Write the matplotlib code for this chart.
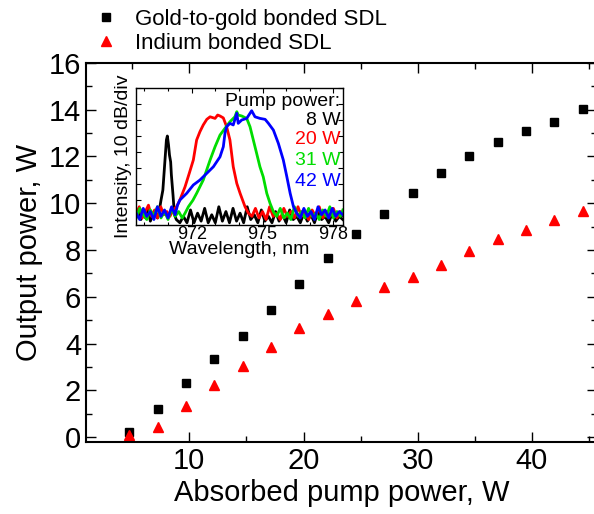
import matplotlib
matplotlib.use("Agg")
import matplotlib.pyplot as plt
from matplotlib.ticker import MultipleLocator, NullFormatter

plt.rcParams['font.family'] = ['Liberation Sans', 'DejaVu Sans']

# --- main data: output power vs absorbed pump power ---
pump_w = [4.71, 7.22, 9.70, 12.15, 14.67, 17.12, 19.60, 22.11, 24.59, 27.04,
          29.55, 32.03, 34.51, 37.00, 39.47, 41.95, 44.44]
gold_out = [0.24, 1.21, 2.33, 3.34, 4.33, 5.44, 6.53, 7.64, 8.67, 9.53,
            10.44, 11.28, 12.01, 12.60, 13.09, 13.48, 14.01]
indium_out = [0.10, 0.45, 1.34, 2.25, 3.03, 3.87, 4.68, 5.26, 5.83, 6.43,
              6.86, 7.36, 7.95, 8.45, 8.85, 9.27, 9.66]

# --- inset spectra (wavelength nm, intensity dB) ---
black_wl = [969.65, 969.75, 969.85, 969.95, 970.05, 970.15, 970.25, 970.35, 970.45, 970.55,
            970.61, 970.70, 970.78, 970.87, 970.93, 970.97, 971.02, 971.06, 971.11, 971.14,
            971.21, 971.27,
            971.35, 971.50, 971.65, 971.80, 971.95, 972.10, 972.25, 972.40, 972.55, 972.70,
            972.85, 973.00, 973.15, 973.30, 973.45, 973.60, 973.75, 973.90, 974.05, 974.20,
            974.35, 974.50, 974.65, 974.80, 974.95, 975.10, 975.25, 975.40, 975.55, 975.70,
            975.85, 976.00, 976.15, 976.30, 976.45, 976.60, 976.75, 976.90, 977.05, 977.20,
            977.35, 977.50, 977.65, 977.80, 977.95, 978.10, 978.25, 978.40]
black_db = [-80, -76, -82, -78, -81, -75, -83, -79, -77, -81,
            -78, -70, -63.6, -44.8, -32.3, -29.8, -35.4, -41.7, -46, -54,
            -66.7, -79,
            -82, -84, -80, -84, -76, -84, -78, -83, -75, -84,
            -79, -84, -74, -83, -77, -84, -75, -83, -78, -84,
            -74, -82, -79, -84, -76, -83, -80, -84, -77, -83,
            -79, -84, -76, -82, -80, -84, -78, -83, -79, -84,
            -77, -82, -80, -84, -78, -83, -80, -82]

red_wl = [969.65, 969.78, 969.91, 970.04, 970.17, 970.30, 970.43, 970.56, 970.69, 970.82,
          970.95, 971.08, 971.21, 971.36, 971.50, 971.72, 971.90, 972.07, 972.21, 972.35,
          972.49, 972.64, 972.78, 972.99, 973.10, 973.20, 973.34, 973.48, 973.62, 973.76,
          973.91, 974.05, 974.26, 974.40, 974.55, 974.70, 974.85, 975.00, 975.15, 975.30,
          975.45, 975.60, 975.75, 975.90, 976.05, 976.20, 976.35, 976.50, 976.65, 976.80,
          976.95, 977.10, 977.25, 977.40, 977.55, 977.70, 977.85, 978.00, 978.15, 978.30,
          978.40]
red_db = [-79, -74, -81, -77, -73, -80, -76, -81, -74, -79,
          -77, -80, -76, -74, -69.8, -61.5, -53, -44.8, -32.3, -27.1,
          -22.9, -19.4, -17.8, -18.8, -16.7, -17.3, -18.5, -24, -32.3, -49,
          -59.4, -65.6, -74, -78, -80, -75, -81, -77, -82, -74,
          -80, -78, -82, -75, -80, -77, -81, -74, -80, -78,
          -82, -76, -80, -74, -81, -77, -80, -75, -81, -77,
          -79]

green_wl = [969.65, 969.80, 969.95, 970.10, 970.25, 970.40, 970.55, 970.70, 970.85, 971.00,
            971.15, 971.30, 971.45, 971.60, 971.72, 971.86, 972.05, 972.21, 972.49, 972.78,
            972.99, 973.20, 973.41, 973.62, 973.83, 973.91, 973.97, 974.12, 974.33, 974.47,
            974.61, 974.75, 974.89, 975.03, 975.18, 975.32, 975.46, 975.60, 975.75, 975.90,
            976.05, 976.20, 976.35, 976.50, 976.65, 976.80, 976.95, 977.10, 977.25, 977.40,
            977.55, 977.70, 977.85, 978.00, 978.15, 978.30, 978.40]
green_db = [-81, -75, -79, -82, -76, -80, -74, -81, -77, -82,
            -75, -80, -77, -81, -78, -74, -70, -65.6, -57.3, -44.8,
            -36.5, -29.2, -25, -20.9, -17.8, -14.6, -16.7, -17.3, -18.8, -24,
            -32.3, -40.6, -49, -55.3, -65.6, -71.9, -77.1, -80, -75, -81,
            -78, -82, -74, -80, -77, -81, -75, -80, -78, -82,
            -76, -80, -74, -81, -77, -80, -76]

blue_wl = [969.65, 969.80, 969.95, 970.10, 970.25, 970.40, 970.55, 970.70, 970.85, 971.00,
           971.15, 971.30, 971.40, 971.50, 971.79, 972.07, 972.35, 972.64, 972.92, 973.20,
           973.34, 973.41, 973.48, 973.62, 973.76, 973.91, 973.97, 974.12, 974.33, 974.54,
           974.68, 974.89, 975.11, 975.25, 975.46, 975.67, 975.88, 976.03, 976.17, 976.31,
           976.45, 976.60, 976.75, 976.90, 977.05, 977.20, 977.35, 977.50, 977.65, 977.80,
           977.95, 978.10, 978.25, 978.40]
blue_db = [-78, -82, -75, -80, -77, -82, -74, -80, -76, -81,
           -74, -79, -73, -69.8, -65.6, -60.4, -57.3, -53.1, -49, -42.8,
           -36.5, -28.1, -24, -21.9, -22.9, -15.6, -21.9, -19.8, -18.8, -14,
           -17.8, -18.8, -19.4, -21.9, -26.1, -34.4, -44.8, -55.3, -65.6, -74,
           -78.1, -81, -75, -80, -77, -82, -74, -79, -76, -81,
           -75, -80, -77, -79]

pump_labels = ["8 W", "20 W", "31 W", "42 W"]
spec_colors = ["black", "#ff0000", "#00dd00", "#0000ff"]

fig = plt.figure(figsize=(5.94, 5.14), dpi=100)
ax = fig.add_axes([86 / 594, 1 - 441.7 / 514, 511 / 594, 379 / 514])

ax.plot(pump_w, gold_out, 's', color='black', markersize=5.5, linestyle='none',
        label="Gold-to-gold bonded SDL")
ax.plot(pump_w, indium_out, '^', color='#ff0000', markersize=6.5, linestyle='none',
        label="Indium bonded SDL")

ax.set_xlim(0.95, 45.7)
ax.set_ylim(-0.19, 16)
ax.xaxis.set_major_locator(MultipleLocator(10))
ax.xaxis.set_minor_locator(MultipleLocator(5))
ax.yaxis.set_major_locator(MultipleLocator(2))
ax.yaxis.set_minor_locator(MultipleLocator(1))
ax.tick_params(which='both', direction='in', top=True, right=True, width=1)
ax.tick_params(which='major', length=7, labelsize=21)
ax.tick_params(which='minor', length=4)
for s in ax.spines.values():
    s.set_linewidth(1.5)
ax.set_xlabel("Absorbed pump power, W", fontsize=21, labelpad=3)
ax.set_ylabel("Output power, W", fontsize=21, labelpad=4)

ax.legend(loc='upper left', bbox_to_anchor=(95 / 594, 1 - 9 / 514),
          bbox_transform=fig.transFigure, frameon=False, fontsize=16,
          handlelength=1.0, handletextpad=0.8, borderpad=0, borderaxespad=0,
          labelspacing=0.12, numpoints=1)

# --- inset ---
ins = fig.add_axes([135.7 / 594, 1 - 225 / 514, 207.6 / 594, 136.7 / 514])
for wl, db, c in zip([black_wl, red_wl, green_wl, blue_wl],
                     [black_db, red_db, green_db, blue_db], spec_colors):
    ins.plot(wl, db, color=c, linewidth=2)
ins.set_xlim(969.63, 978.42)
ins.set_ylim(-85.4, 0)
ins.xaxis.set_major_locator(MultipleLocator(3))
ins.xaxis.set_minor_locator(MultipleLocator(1))
ins.yaxis.set_major_locator(MultipleLocator(10))
ins.yaxis.set_major_formatter(NullFormatter())
ins.tick_params(which='both', direction='in', top=True, right=True, width=0.8)
ins.tick_params(which='major', length=3.5, labelsize=13, pad=0.5)
ins.tick_params(which='minor', length=2)
for s in ins.spines.values():
    s.set_linewidth(1)
ins.set_xlabel("Wavelength, nm", fontsize=14, labelpad=-1)
ins.set_ylabel("Intensity, 10 dB/div", fontsize=14, labelpad=2)

ins.text(0.985, 0.902, "Pump power:", transform=ins.transAxes, ha='right', va='center',
         fontsize=14)
for i, (lab, c) in enumerate(zip(pump_labels, spec_colors)):
    ins.text(0.985, [0.761, 0.622, 0.475, 0.317][i], lab, transform=ins.transAxes,
             ha='right', va='center', fontsize=14, color=c)

fig.savefig("out.png", dpi=100)
